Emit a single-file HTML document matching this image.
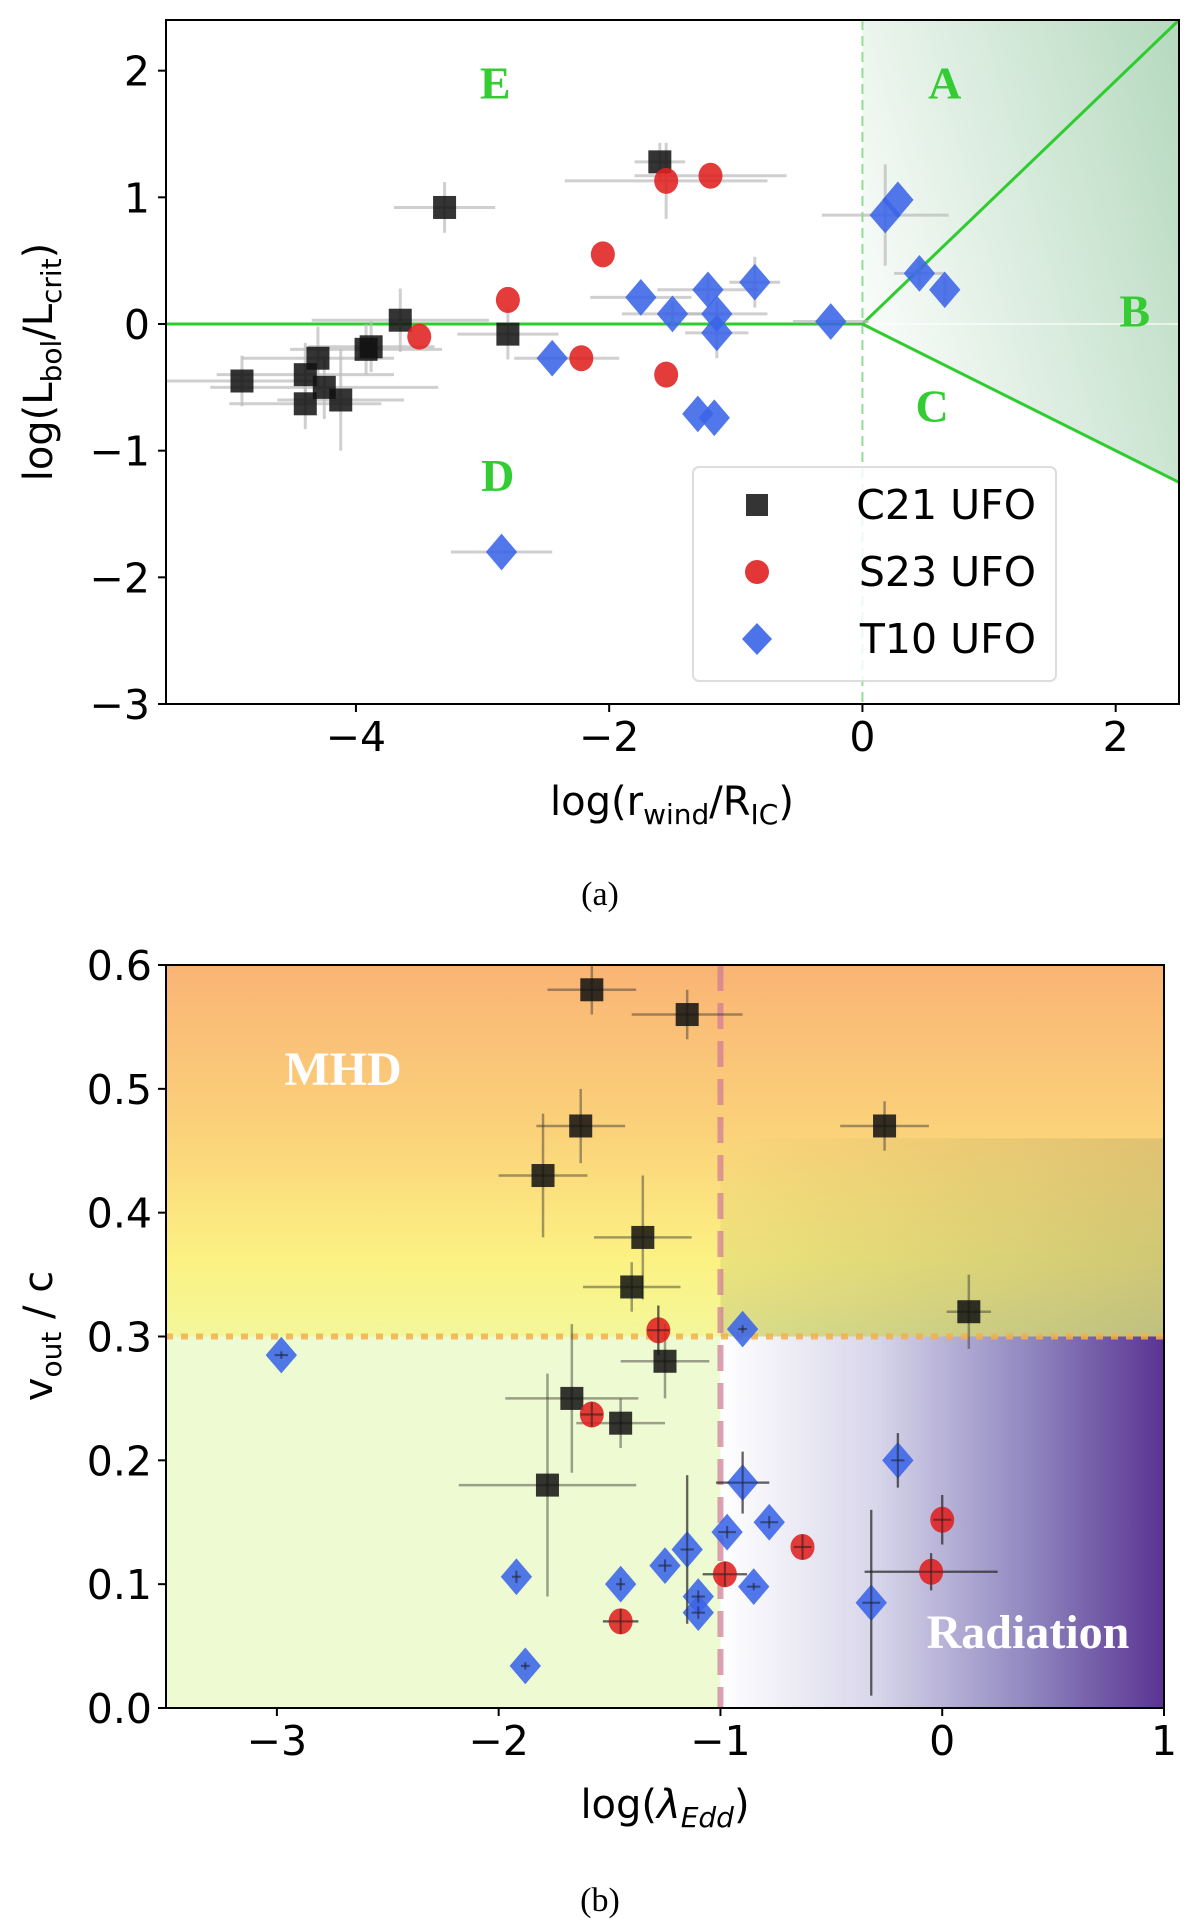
<!DOCTYPE html>
<html><head><meta charset="utf-8"><style>
html,body{margin:0;padding:0;background:#fff;}
svg{display:block;font-family:"DejaVu Sans","Liberation Sans",sans-serif;}
</style></head><body>
<svg id="fig" width="1200" height="1929" viewBox="0 0 1200 1929" xmlns="http://www.w3.org/2000/svg">
<defs>
<linearGradient id="gA" x1="0" y1="0.6" x2="1" y2="0"><stop offset="0" stop-color="#ffffff"/><stop offset="1" stop-color="#b5d9be"/></linearGradient>
<linearGradient id="gTop" x1="0" y1="0" x2="0" y2="1"><stop offset="0" stop-color="#f9b475"/><stop offset="0.45" stop-color="#fbd27a"/><stop offset="0.8" stop-color="#fcf283"/><stop offset="1" stop-color="#f3f79a"/></linearGradient>
<linearGradient id="gTopR" x1="0" y1="0" x2="1" y2="1"><stop offset="0" stop-color="#888844" stop-opacity="0"/><stop offset="1" stop-color="#807c60" stop-opacity="0.45"/></linearGradient>
<linearGradient id="gRad" x1="0" y1="0" x2="1" y2="0"><stop offset="0" stop-color="#ffffff"/><stop offset="0.35" stop-color="#d8d6ea"/><stop offset="0.7" stop-color="#8f86bf"/><stop offset="1" stop-color="#5a3392"/></linearGradient>
</defs>
<g id="p1"></g>
<g id="p2"></g>
<text x="600" y="905" text-anchor="middle" font-family="Liberation Serif,serif" font-size="34">(a)</text>
<text x="600" y="1911" text-anchor="middle" font-family="Liberation Serif,serif" font-size="34">(b)</text>
</svg>
<script>
// Panel A data
const aBlackX=[-4.9,-4.4,-4.4,-4.3,-4.25,-4.12,-3.92,-3.88,-3.65,-3.3,-2.8,-1.6];
const aBlackY=[-0.45,-0.4,-0.63,-0.27,-0.5,-0.6,-0.2,-0.18,0.03,0.92,-0.08,1.28];
const aBlackXe=[0.6,0.7,0.6,0.6,0.9,0.5,0.6,0.5,0.7,0.4,0.4,0.2];
const aBlackYe=[0.2,0.25,0.2,0.25,0.25,0.4,0.2,0.2,0.25,0.2,0.2,0.15];
const aRedX=[-3.5,-2.8,-2.05,-2.22,-1.55,-1.2,-1.55];
const aRedY=[-0.1,0.19,0.55,-0.27,1.13,1.17,-0.4];
const aRedXe=[0,0,0,0.3,0.8,0.6,0];
const aRedYe=[0,0,0,0,0.3,0,0];
const aBlueX=[-2.45,-1.75,-1.5,-1.22,-1.15,-1.15,-0.85,-1.3,-1.17,-0.25,0.18,0.28,0.45,0.65,-2.85];
const aBlueY=[-0.27,0.21,0.08,0.27,0.08,-0.07,0.33,-0.71,-0.74,0.02,0.86,0.98,0.4,0.27,-1.8];
const aBlueXe=[0.3,0.4,0.4,0.4,0.4,0.25,0.2,0,0,0.3,0.5,0,0.2,0,0.4];
const aBlueYe=[0,0,0.1,0.1,0.1,0.2,0.2,0,0,0,0.4,0,0.1,0.1,0];
const aXTicks=[-4,-2,0,2];
const aYTicks=[2,1,0,-1,-2,-3];
// Panel B data
const bBlackX=[-1.58,-1.15,-1.63,-0.26,-1.8,-1.35,-1.4,0.12,-1.25,-1.67,-1.45,-1.78];
const bBlackY=[0.58,0.56,0.47,0.47,0.43,0.38,0.34,0.32,0.28,0.25,0.23,0.18];
const bBlackXe=[0.2,0.25,0.2,0.2,0.2,0.22,0.22,0.1,0.2,0.3,0.2,0.4];
const bBlackYe=[0.02,0.02,0.03,0.02,0.05,0.05,0.02,0.03,0.03,0.06,0.02,0.09];
const bRedX=[-1.28,-1.58,-1.45,-0.98,-0.63,0,-0.05];
const bRedY=[0.305,0.237,0.07,0.108,0.13,0.152,0.11];
const bRedXe=[0.05,0.05,0.08,0.1,0.04,0.04,0.3];
const bRedYe=[0.02,0.01,0.01,0.01,0.01,0.02,0.015];
const bBlueX=[-2.98,-0.9,-0.9,-0.2,-0.78,-0.97,-1.15,-1.25,-1.92,-1.45,-1.1,-1.1,-0.85,-0.32,-1.88];
const bBlueY=[0.285,0.306,0.182,0.2,0.15,0.142,0.128,0.115,0.106,0.1,0.09,0.077,0.098,0.085,0.034];
const bBlueXe=[0.03,0.02,0.12,0.03,0.04,0.04,0.03,0.03,0.02,0.02,0.03,0.03,0.03,0.04,0.02];
const bBlueYe=[0.003,0.003,0.025,0.022,0.005,0.005,0.06,0.005,0.005,0.005,0.005,0.005,0.003,0.075,0.003];
const bXTicks=[-3,-2,-1,0,1];
const bYTicks=[0.0,0.1,0.2,0.3,0.4,0.5,0.6];

const NS="http://www.w3.org/2000/svg";
function mk(parent,tag,attrs){const e=document.createElementNS(NS,tag);for(const k in attrs)e.setAttribute(k,attrs[k]);parent.appendChild(e);return e;}

// ---------- Panel A ----------
const p1=document.getElementById('p1');
const A={l:166,r:1179,t:20,b:704,x0:-5.5,x1:2.5,y0:-3,y1:2.4};
const ax=v=>A.l+(v-A.x0)/(A.x1-A.x0)*(A.r-A.l);
const ay=v=>A.b-(v-A.y0)/(A.y1-A.y0)*(A.b-A.t);
let e;
e=mk(p1,'rect',{x:ax(0),y:A.t,width:A.r-ax(0),height:A.b-A.t,fill:'url(#gA)'});


e=mk(p1,'polygon',{points:`${ax(0)},${ay(0)} ${A.r},${ay(-0.5*2.5)} ${A.r},${A.b} ${ax(0)},${A.b}`,fill:'#fff'});


e=mk(p1,'line',{x1:ax(0),y1:A.t,x2:ax(0),y2:A.b,stroke:'#90e090','stroke-width':2,'stroke-dasharray':'10,6'});


e=mk(p1,'line',{x1:ax(0),y1:ay(0),x2:A.r,y2:ay(0),stroke:'#fff','stroke-width':1.5,opacity:0.8});


e=mk(p1,'polyline',{points:`${A.l},${ay(0)} ${ax(0)},${ay(0)} ${A.r},${ay(2.4)}`,fill:'none',stroke:'#2ecc2e','stroke-width':3});


e=mk(p1,'line',{x1:ax(0),y1:ay(0),x2:A.r,y2:ay(-1.25),stroke:'#2ecc2e','stroke-width':3});


const letters=[['E',-2.9,1.78],['A',0.65,1.78],['B',2.15,-0.02],['C',0.55,-0.77],['D',-2.88,-1.32]];
letters.forEach(([t,x,y])=>{const el=mk(p1,'text',{x:ax(x),y:ay(y),'text-anchor':'middle','font-family':'Liberation Serif,serif','font-weight':'bold','font-size':46,fill:'#33cc33'});el.textContent=t;

});

function errbars(g,X,Y,XE,YE,fx,fy,col,sw,op,name){for(let i=0;i<X.length;i++){
 if(XE[i]>0){const l=mk(g,'line',{x1:fx(X[i]-XE[i]),x2:fx(X[i]+XE[i]),y1:fy(Y[i]),y2:fy(Y[i]),stroke:col,'stroke-width':sw,opacity:op});
 
 }
 if(YE[i]>0){const l=mk(g,'line',{x1:fx(X[i]),x2:fx(X[i]),y1:fy(Y[i]-YE[i]),y2:fy(Y[i]+YE[i]),stroke:col,'stroke-width':sw,opacity:op});
 
 }}}
function markers(g,X,Y,fx,fy,kind,name,s){for(let i=0;i<X.length;i++){const cx=fx(X[i]),cy=fy(Y[i]);let m;
 if(kind==='sq')m=mk(g,'rect',{x:cx-s/2,y:cy-s/2,width:s,height:s,fill:'#111',opacity:0.85});
 else if(kind==='ci')m=mk(g,'ellipse',{cx:cx,cy:cy,rx:s/2,ry:s/2+1,fill:'#e02020',opacity:0.88});
 else m=mk(g,'polygon',{points:`${cx},${cy-s*0.68} ${cx+s*0.58},${cy} ${cx},${cy+s*0.68} ${cx-s*0.58},${cy}`,fill:'#3a64e8',opacity:0.88});
 
 }}

errbars(p1,aBlackX,aBlackY,aBlackXe,aBlackYe,ax,ay,'#bbb',3,0.7,'c21');
errbars(p1,aRedX,aRedY,aRedXe,aRedYe,ax,ay,'#bbb',3,0.7,'s23');
errbars(p1,aBlueX,aBlueY,aBlueXe,aBlueYe,ax,ay,'#bbb',3,0.7,'t10');
markers(p1,aBlackX,aBlackY,ax,ay,'sq','c21-point',23);
markers(p1,aRedX,aRedY,ax,ay,'ci','s23-point',24);
markers(p1,aBlueX,aBlueY,ax,ay,'di','t10-point',27);

e=mk(p1,'rect',{x:A.l,y:A.t,width:A.r-A.l,height:A.b-A.t,fill:'none',stroke:'#000','stroke-width':2});


aXTicks.forEach(v=>{mk(p1,'line',{x1:ax(v),x2:ax(v),y1:A.b,y2:A.b+8,stroke:'#000','stroke-width':2});
 const t=mk(p1,'text',{x:ax(v),y:A.b+47,'text-anchor':'middle','font-size':41});t.textContent=(v<0?'\u2212'+(-v):v);
 
 });
aYTicks.forEach(v=>{mk(p1,'line',{x1:A.l-8,x2:A.l,y1:ay(v),y2:ay(v),stroke:'#000','stroke-width':2});
 const t=mk(p1,'text',{x:A.l-16,y:ay(v)+15,'text-anchor':'end','font-size':41});t.textContent=(v<0?'\u2212'+(-v):v);
 
 });
let t=mk(p1,'text',{x:672,y:815,'text-anchor':'middle','font-size':40});
t.innerHTML='log(r<tspan font-size="28" dy="9">wind</tspan><tspan dy="-9">/R</tspan><tspan font-size="28" dy="9">IC</tspan><tspan dy="-9">)</tspan>';


t=mk(p1,'text',{transform:'translate(52,362) rotate(-90)','text-anchor':'middle','font-size':40});
t.innerHTML='log(L<tspan font-size="28" dy="9">bol</tspan><tspan dy="-9">/L</tspan><tspan font-size="28" dy="9">crit</tspan><tspan dy="-9">)</tspan>';


// legend
const lg=mk(p1,'g',{});


mk(lg,'rect',{x:693,y:467,width:363,height:214,rx:6,fill:'#fff',opacity:0.85,stroke:'#d8d8d8','stroke-width':2});
const legNames=['C21 UFO','S23 UFO','T10 UFO'];
legNames.forEach((n,i)=>{const cy=505+i*67;let m;
 if(i===0)m=mk(lg,'rect',{x:746,y:cy-11,width:22,height:22,fill:'#111',opacity:0.85});
 else if(i===1)m=mk(lg,'ellipse',{cx:757,cy:cy,rx:12,ry:12,fill:'#e02020',opacity:0.9});
 else m=mk(lg,'polygon',{points:`757,${cy-16} 772,${cy} 757,${cy+16} 742,${cy}`,fill:'#3a64e8',opacity:0.9});
 
 
 const tx=mk(lg,'text',{x:1036,y:cy+14,'text-anchor':'end','font-size':41});tx.textContent=n;
 
 });

// ---------- Panel B ----------
const p2=document.getElementById('p2');
const B={l:166,r:1164,t:965,b:1708,x0:-3.5,x1:1,y0:0,y1:0.6};
const bx=v=>B.l+(v-B.x0)/(B.x1-B.x0)*(B.r-B.l);
const by=v=>B.b-(v-B.y0)/(B.y1-B.y0)*(B.b-B.t);
e=mk(p2,'rect',{x:B.l,y:B.t,width:B.r-B.l,height:by(0.3)-B.t,fill:'url(#gTop)'});


e=mk(p2,'rect',{x:bx(-1),y:by(0.46),width:B.r-bx(-1),height:by(0.3)-by(0.46),fill:'url(#gTopR)'});


e=mk(p2,'rect',{x:B.l,y:by(0.3),width:bx(-1)-B.l,height:B.b-by(0.3),fill:'#eefad2'});


e=mk(p2,'rect',{x:bx(-1),y:by(0.3),width:B.r-bx(-1),height:B.b-by(0.3),fill:'url(#gRad)'});


e=mk(p2,'line',{x1:bx(-1),x2:bx(-1),y1:B.t,y2:B.b,stroke:'#d07a98','stroke-width':6,'stroke-dasharray':'26,12',opacity:0.7});


e=mk(p2,'line',{x1:B.l,x2:B.r,y1:by(0.3),y2:by(0.3),stroke:'#f4b04a','stroke-width':6,'stroke-dasharray':'7,8',opacity:0.85});


t=mk(p2,'text',{x:343,y:1085,'text-anchor':'middle','font-family':'Liberation Serif,serif','font-weight':'bold','font-size':48,fill:'#fff'});t.textContent='MHD';


t=mk(p2,'text',{x:1028,y:1648,'text-anchor':'middle','font-family':'Liberation Serif,serif','font-weight':'bold','font-size':48,fill:'#fff'});t.textContent='Radiation';



errbars(p2,bBlackX,bBlackY,bBlackXe,bBlackYe,bx,by,'#333',2.5,0.45,'c21');
errbars(p2,bRedX,bRedY,bRedXe,bRedYe,bx,by,'#333',2.5,0.45,'s23');
errbars(p2,bBlueX,bBlueY,bBlueXe,bBlueYe,bx,by,'#333',2.5,0.45,'t10');
markers(p2,bBlackX,bBlackY,bx,by,'sq','c21-point',23);
markers(p2,bRedX,bRedY,bx,by,'ci','s23-point',24);
markers(p2,bBlueX,bBlueY,bx,by,'di','t10-point',27);
errbars(p2,bBlueX,bBlueY,bBlueXe,bBlueYe,bx,by,'#222',2,0.5,'t10-over');
errbars(p2,bRedX,bRedY,bRedXe,bRedYe,bx,by,'#222',2,0.5,'s23-over');

e=mk(p2,'rect',{x:B.l,y:B.t,width:B.r-B.l,height:B.b-B.t,fill:'none',stroke:'#000','stroke-width':2});


bXTicks.forEach(v=>{mk(p2,'line',{x1:bx(v),x2:bx(v),y1:B.b,y2:B.b+8,stroke:'#000','stroke-width':2});
 const t=mk(p2,'text',{x:bx(v),y:B.b+47,'text-anchor':'middle','font-size':41});t.textContent=(v<0?'\u2212'+(-v):v);
 
 });
bYTicks.forEach(v=>{mk(p2,'line',{x1:B.l-8,x2:B.l,y1:by(v),y2:by(v),stroke:'#000','stroke-width':2});
 const t=mk(p2,'text',{x:B.l-14,y:by(v)+15,'text-anchor':'end','font-size':41});t.textContent=v.toFixed(1);
 
 });
t=mk(p2,'text',{x:665,y:1818,'text-anchor':'middle','font-size':40});
t.innerHTML='log(<tspan font-style="italic">λ</tspan><tspan font-size="28" dy="9" font-style="italic">Edd</tspan><tspan dy="-9">)</tspan>';


t=mk(p2,'text',{transform:'translate(52,1336) rotate(-90)','text-anchor':'middle','font-size':40});
t.innerHTML='v<tspan font-size="28" dy="9">out</tspan><tspan dy="-9"> / c</tspan>';


</script>
</body></html>
